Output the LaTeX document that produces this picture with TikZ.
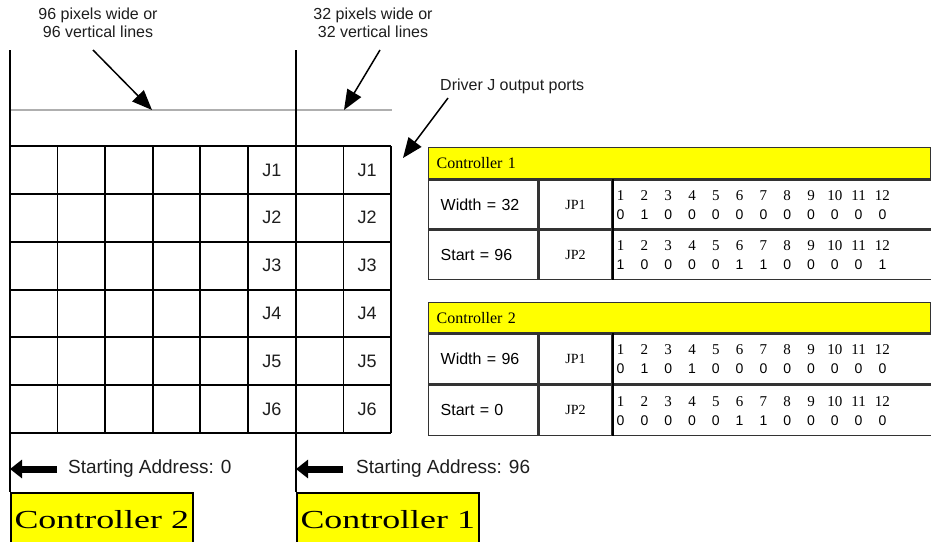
\documentclass[tikz,border=0pt]{standalone}
\usepackage{fontspec}
\setmainfont{Liberation Sans}
\newfontfamily\tnr{Liberation Serif}
\usepackage{graphicx}
\usetikzlibrary{arrows.meta}
\definecolor{ctrlyellow}{RGB}{255,255,0}
\definecolor{inkgray}{RGB}{30,30,30}
\definecolor{rulegray}{RGB}{175,175,175}
\tikzstyle{note} = [font=\fontsize{16}{18}\selectfont, align=center, inner sep=0pt, text=inkgray]
\tikzstyle{addr} = [font=\fontsize{19}{19}\selectfont, anchor=west, inner sep=0pt, text=inkgray]
\tikzstyle{arrow} = [line width=1.5pt, -{Triangle[length=20pt,width=16pt]}]
\tikzstyle{fatarrow} = [line width=7pt, -{Triangle[length=12pt,width=18pt]}]
\tikzstyle{mainline} = [line width=2pt]
\tikzstyle{gridline} = [line width=1.3pt]
\tikzstyle{port} = [font=\fontsize{18}{18}\selectfont, inner sep=0pt, text=inkgray]
\tikzstyle{ctrlbox} = [draw, line width=1.5pt, fill=ctrlyellow, anchor=north west, minimum width=182pt, minimum height=54pt, inner sep=0pt, font=\tnr\fontsize{26}{26}\selectfont]
\tikzstyle{head} = [draw=black!80, line width=1.3pt, fill=ctrlyellow, anchor=north west, minimum width=502pt, minimum height=31pt, text width=486pt, inner xsep=8pt, inner ysep=0pt, align=left, font=\tnr\fontsize{16}{16}\selectfont]
\tikzstyle{field} = [draw=black!80, line width=1.3pt, anchor=north west, minimum width=109pt, minimum height=49pt, text width=85pt, inner xsep=12pt, inner ysep=0pt, align=left, font=\fontsize{16}{16}\selectfont]
\tikzstyle{jport} = [draw=black!80, line width=1.3pt, anchor=north west, minimum width=73pt, minimum height=49pt, inner sep=0pt, font=\tnr\fontsize{14}{14}\selectfont]
\tikzstyle{bits} = [draw=black!80, line width=1.3pt, anchor=north west, minimum width=320pt, minimum height=49pt, inner sep=0pt]
\tikzstyle{idx} = [inner sep=0pt, font=\tnr\fontsize{15}{15}\selectfont]
\tikzstyle{bit} = [inner sep=0pt, font=\fontsize{14}{14}\selectfont]

\begin{document}
\begin{tikzpicture}[x=1pt, y=-1pt]
        \useasboundingbox (0,0) rectangle (931,541);
        \clip (0,0) rectangle (931,541);
        \fill[white] (0,0) rectangle (931,541);

        \node[note] (note96) at (98,23) {96 pixels wide or\\96 vertical lines};
        \node[note] (note32) at (373,23) {32 pixels wide or\\32 vertical lines};
        \node[note, anchor=west] (drvnote) at (440,86) {Driver J output ports};

        \coordinate (topL) at (10,50);
        \coordinate (topR) at (296,50);
        \node[ctrlbox] (ctrl2) at (10,492) {\scalebox{1.38}[1]{Controller 2}};
        \node[ctrlbox] (ctrl1) at (296,492) {\scalebox{1.38}[1]{Controller 1}};

        \draw[rulegray, line width=1.5pt] (10,110) -- (392,110);
        \foreach \x in {10,57.5,105,153,200,248,296,343.5,391}
            \draw[gridline] (\x,146) -- (\x,433);
        \foreach \y in {146,194,242,290,337,385,433}
            \draw[gridline] (10,\y) -- (391,\y);
        \draw[mainline] (topL) -- (ctrl2.north west);
        \draw[mainline] (topR) -- (ctrl1.north west);

        \foreach \j in {1,...,6} {
            \node[port] (jl\j) at (272,{146+47.8*(\j-0.5)}) {J\j};
            \node[port] (jr\j) at (367,{146+47.8*(\j-0.5)}) {J\j};
        }

        \coordinate (from96) at (93,50);
        \coordinate (to96) at (152,110);
        \coordinate (from32) at (380,50);
        \coordinate (to32) at (344,110);
        \coordinate (fromdrv) at (448,98);
        \coordinate (todrv) at (403,158);
        \draw[arrow] (from96) -- (to96);
        \draw[arrow] (from32) -- (to32);
        \draw[arrow] (fromdrv) -- (todrv);

        \node[addr] (addr0) at (68,469) {Starting Address: 0};
        \node[addr] (addr96) at (356,469) {Starting Address: 96};
        \draw[fatarrow] ([xshift=-11pt]addr0.west) -- (addr0.west -| topL);
        \draw[fatarrow] ([xshift=-13pt]addr96.west) -- (addr96.west -| topR);

        \node[head] (c1head) at (428,147) {Controller 1};
        \node[field] (c1width) at (c1head.south west) {Width = 32};
        \node[jport] (c1jp1) at (c1width.north east) {JP1};
        \node[bits] (c1bits1) at (c1jp1.north east) {};
        \node[field] (c1start) at (c1width.south west) {Start = 96};
        \node[jport] (c1jp2) at (c1start.north east) {JP2};
        \node[bits] (c1bits2) at (c1jp2.north east) {};
        \draw[line width=2.2pt] (c1bits1.north west) -- (c1bits2.south west);

        \node[head, minimum height=30pt] (c2head) at (428,302) {Controller 2};
        \node[field, minimum height=50pt] (c2width) at (c2head.south west) {Width = 96};
        \node[jport, minimum height=50pt] (c2jp1) at (c2width.north east) {JP1};
        \node[bits, minimum height=50pt] (c2bits1) at (c2jp1.north east) {};
        \node[field, minimum height=50pt] (c2start) at (c2width.south west) {Start = 0};
        \node[jport, minimum height=50pt] (c2jp2) at (c2start.north east) {JP2};
        \node[bits, minimum height=50pt] (c2bits2) at (c2jp2.north east) {};
        \draw[line width=2.2pt] (c2bits1.north west) -- (c2bits2.south west);

        \foreach \row/\vals in {c1bits1/{0,1,0,0,0,0,0,0,0,0,0,0},
                                c1bits2/{1,0,0,0,0,1,1,0,0,0,0,1},
                                c2bits1/{0,1,0,1,0,0,0,0,0,0,0,0},
                                c2bits2/{0,0,0,0,0,1,1,0,0,0,0,0}}
            \foreach \b [count=\k] in \vals {
                \node[idx] (\row-i\k) at ([xshift={8+23.8*(\k-1)}, yshift=9]\row.west) {\k};
                \node[bit] (\row-b\k) at ([xshift={8+23.8*(\k-1)}, yshift=-10]\row.west) {\b};
            }
\end{tikzpicture}
\end{document}
